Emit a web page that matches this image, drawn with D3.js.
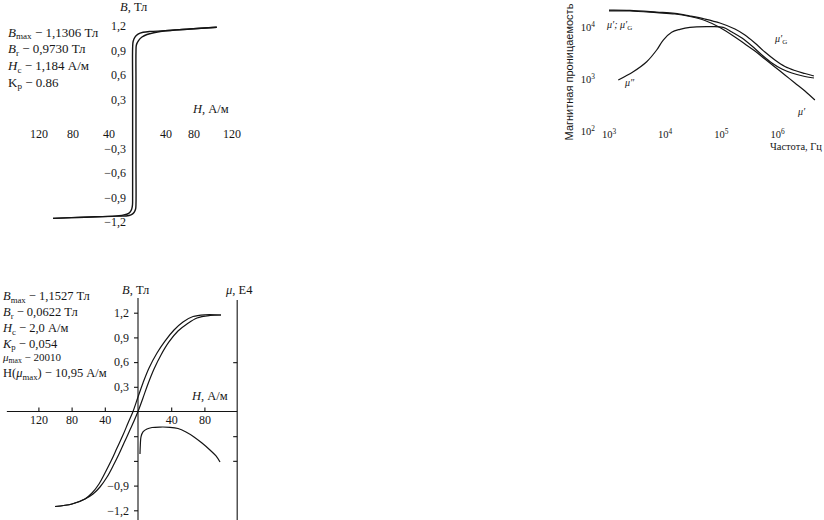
<!DOCTYPE html>
<html><head><meta charset="utf-8">
<script src="https://cdn.jsdelivr.net/npm/d3@7/dist/d3.min.js"></script>
<style>
body{margin:0;background:#fff}
svg{display:block}
text{font-family:"Liberation Serif","DejaVu Serif",serif;fill:#161616}
</style>
</head><body>
<svg id="c" width="824" height="520"></svg>
<script>
// ---------- Chart A: narrow hysteresis loop ----------
const aDescH = [104, 74, 39, 20, 11, 4.6, 0.5, -2, -2.8, -2.8, -2.8, -2.8, -2.8, -3.0, -4.2, -7, -12, -20, -30, -67, -103.5];
const aDescB = [1.184, 1.163, 1.141, 1.134, 1.123, 1.10, 1.06, 1.01, 0.93, 0.5, 0, -0.5, -0.9, -0.99, -1.04, -1.08, -1.105, -1.12, -1.128, -1.141, -1.155];
const aAscH  = [-103.5, -67, -30, -20, -13, -5.4, -0.6, 1.5, 2.0, 2.0, 2.0, 2.0, 2.0, 2.5, 5.2, 9.6, 15.9, 26, 39, 74, 104];
const aAscB  = [-1.155, -1.141, -1.128, -1.128, -1.127, -1.114, -1.084, -1.041, -0.98, -0.5, 0, 0.5, 0.88, 0.967, 1.022, 1.065, 1.096, 1.12, 1.141, 1.163, 1.184];
const aTicksH = [-120, -80, -40, 40, 80, 120];
const aTickLabelsH = ["120", "80", "40", "40", "80", "120"];
const aTicksB = [1.2, 0.9, 0.6, 0.3, -0.3, -0.6, -0.9, -1.2];
const aTickLabelsB = ["1,2", "0,9", "0,6", "0,3", "−0,3", "−0,6", "−0,9", "−1,2"];
const aParams = [
  [{t:"B", i:1}, {t:"max", sub:1}, {t:" − 1,1306 Тл"}],
  [{t:"B", i:1}, {t:"r", sub:1}, {t:" − 0,9730 Тл"}],
  [{t:"H", i:1}, {t:"c", sub:1}, {t:" − 1,184 А/м"}],
  [{t:"K"}, {t:"p", sub:1}, {t:" − 0.86"}]
];

// ---------- Chart B: permeability vs frequency ----------
const bMu1F = [1000, 2365, 7060, 14930, 27600, 51000, 94400, 174600, 263000, 396000, 597000, 899000, 1355000, 2040000, 3080000, 4630000];
const bMu1V = [20500, 20300, 18840, 17800, 15900, 13330, 9780, 6420, 4710, 3450, 2425, 1703, 1194, 838, 588, 394];
const bMuGF = [1000, 2365, 7060, 14930, 27600, 51000, 94400, 174600, 263000, 396000, 597000, 899000, 1355000, 2040000, 3080000, 4450000];
const bMuGV = [21100, 20900, 19400, 18300, 16300, 14250, 11940, 9150, 7020, 4920, 3300, 2320, 1740, 1455, 1275, 1142];
const bMu2F = [1463, 2700, 4690, 7060, 9250, 13050, 18350, 27600, 54700, 108000, 154500, 232800, 350600, 527000, 794000, 1197000, 1800000, 2830000, 4450000];
const bMu2V = [957, 1380, 2150, 3610, 5620, 7910, 9030, 9870, 10130, 9870, 8010, 6140, 4310, 2900, 2030, 1556, 1304, 1142, 1045];
const bTicksF = [1e3, 1e4, 1e5, 1e6];
const bTicksMu = [1e4, 1e3, 1e2];

// ---------- Chart C: wide loop + permeability ----------
const cDescH = [100, 80.7, 66.3, 54.2, 43.4, 32.5, 22.9, 13.3, 6.0, 0, -6.0, -12.0, -18.1, -25.3, -32.5, -39.8, -47.0, -55.4, -63.9, -79.5, -100];
const cDescB = [1.172, 1.175, 1.154, 1.088, 0.99, 0.856, 0.711, 0.529, 0.347, 0.176, 0, -0.14, -0.286, -0.444, -0.602, -0.747, -0.881, -0.99, -1.063, -1.124, -1.154];
const cAscH  = [-100, -79.5, -63.9, -54.2, -45.8, -37.3, -30.1, -22.9, -16.9, -10.8, -4.8, 0, 6.0, 12.0, 19.3, 27.7, 37.3, 48.2, 59.0, 71.1, 86.7, 100];
const cAscB  = [-1.154, -1.124, -1.063, -1.002, -0.917, -0.796, -0.662, -0.516, -0.383, -0.249, -0.115, 0, 0.164, 0.334, 0.516, 0.687, 0.845, 0.978, 1.063, 1.136, 1.166, 1.172];
const cMuH = [2.4, 2.8, 3.6, 6.0, 10.8, 16.9, 26.5, 38.6, 48.2, 57.8, 67.5, 77.1, 86.7, 94, 98.8];
const cMuV = [1.28, 1.64, 1.97, 2.17, 2.29, 2.35, 2.37, 2.36, 2.31, 2.17, 1.97, 1.72, 1.44, 1.20, 0.95];
const cTicksH = [-120, -80, -40, 40, 80];
const cTickLabelsH = ["120", "80", "40", "40", "80"];
const cTicksB = [1.2, 0.9, 0.6, 0.3, -0.3, -0.6, -0.9, -1.2];
const cTickLabelsB = ["1,2", "0,9", "0,6", "0,3", "", "", "−0,9", "−1,2"];
const cTicksMu = [1, 2, 5];
const cParams = [
  [{t:"B", i:1}, {t:"max", sub:1}, {t:" − 1,1527 Тл"}],
  [{t:"B", i:1}, {t:"r", sub:1}, {t:" − 0,0622 Тл"}],
  [{t:"H", i:1}, {t:"c", sub:1}, {t:" − 2,0 А/м"}],
  [{t:"K", i:1}, {t:"p", sub:1}, {t:" − 0,054"}],
  [{t:"μ", i:1}, {t:"max", sub:1}, {t:" − 20010"}],
  [{t:"H("}, {t:"μ", i:1}, {t:"max", sub:1}, {t:") − 10,95 А/м"}]
];

// ---------- helpers ----------
const ink = "#141414";
const svg = d3.select("#c");
const zip = (a, b) => a.map((v, i) => [v, b[i]]);
function curvePath(g, xs, ys, pts, w) {
  g.append("path").datum(pts)
    .attr("fill", "none").attr("stroke", ink).attr("stroke-width", w)
    .attr("d", d3.line().x(d => xs(d[0])).y(d => ys(d[1])).curve(d3.curveCatmullRom.alpha(0.5)));
}
function rich(g, x, y, parts, size, anchor) {
  const t = g.append("text").attr("x", x).attr("y", y)
    .style("font-size", size + "px").attr("text-anchor", anchor || "start");
  let shift = 0;
  parts.forEach(p => {
    const ts = t.append("tspan").text(p.t);
    const target = p.sub ? size * 0.22 : p.sup ? -size * 0.4 : 0;
    ts.attr("dy", target - shift); shift = target;
    if (p.sub || p.sup) ts.style("font-size", (size * 0.7) + "px");
    if (p.i) ts.style("font-style", "italic");
  });
  return t;
}

// ---------- Chart A ----------
const gA = svg.append("g");
const xA = d3.scaleLinear().domain([-120, -80, -40, 0, 40, 80, 120]).range([39, 73, 109, 134.4, 166, 194, 232]);
const yA = d3.scaleLinear().domain([-1.2, 1.2]).range([222, 26]);
curvePath(gA, xA, yA, zip(aDescH, aDescB), 1.4);
curvePath(gA, xA, yA, zip(aAscH, aAscB), 1.4);
aTicksH.forEach((v, i) => gA.append("text").attr("x", xA(v)).attr("y", 138)
  .attr("text-anchor", "middle").style("font-size", "12px").text(aTickLabelsH[i]));
aTicksB.forEach((v, i) => gA.append("text").attr("x", 126).attr("y", yA(v) + 4)
  .attr("text-anchor", "end").style("font-size", "12px").text(aTickLabelsB[i]));
rich(gA, 120, 11, [{t:"B", i:1}, {t:", Тл"}], 12.5);
rich(gA, 193, 113, [{t:"H", i:1}, {t:", А/м"}], 12.5);
aParams.forEach((p, i) => rich(gA, 8, 36.5 + i * 16.7, p, 13));

// ---------- Chart B ----------
const gB = svg.append("g");
const xB = d3.scaleLog().domain([1e3, 1e6]).range([609, 777.5]);
const yB = d3.scaleLog().domain([1e2, 1e4]).range([131, 27]);
curvePath(gB, xB, yB, zip(bMu1F, bMu1V), 1.2);
curvePath(gB, xB, yB, zip(bMuGF, bMuGV), 1.2);
curvePath(gB, xB, yB, zip(bMu2F, bMu2V), 1.2);
bTicksF.forEach(v => rich(gB, xB(v), 138, [{t:"10"}, {t:String(Math.round(Math.log10(v))), sup:1}], 10.5, "middle"));
bTicksMu.forEach(v => rich(gB, 595, yB(v) + 4, [{t:"10"}, {t:String(Math.round(Math.log10(v))), sup:1}], 10.5, "end"));
gB.append("text").attr("transform", "translate(573,72) rotate(-90)")
  .attr("text-anchor", "middle").style("font-family", "'Liberation Sans','DejaVu Sans',sans-serif")
  .style("font-size", "11px").text("Магнитная проницаемость");
gB.append("text").attr("x", 822).attr("y", 150).attr("text-anchor", "end")
  .style("font-size", "10.5px").text("Частота, Гц");
rich(gB, 607, 28, [{t:"μ′; μ′", i:1}, {t:"G", sub:1}], 10);
rich(gB, 625, 86, [{t:"μ″", i:1}], 10);
rich(gB, 775, 42, [{t:"μ′", i:1}, {t:"G", sub:1}], 10);
rich(gB, 798, 115, [{t:"μ′", i:1}], 10);

// ---------- Chart C ----------
const gC = svg.append("g");
const xC = d3.scaleLinear().domain([0, 100]).range([138, 221]);
const yC = d3.scaleLinear().domain([-1.2, 1.2]).range([510.3, 312.7]);
const muC = d3.scaleLinear().domain([0, 3]).range([485.5, 411.5]);
const xRight = xC(119.5);
// axis lines
gC.append("line").attr("x1", xC(0)).attr("x2", xC(0)).attr("y1", yC(1.38)).attr("y2", 520)
  .attr("stroke", ink).attr("stroke-width", 1.1);
gC.append("line").attr("x1", xRight).attr("x2", xRight).attr("y1", yC(1.355)).attr("y2", 520)
  .attr("stroke", ink).attr("stroke-width", 1.1);
gC.append("line").attr("x1", xC(-158)).attr("x2", xRight).attr("y1", yC(0)).attr("y2", yC(0))
  .attr("stroke", ink).attr("stroke-width", 1.1);
// axes ticks
const axL = gC.append("g").attr("transform", `translate(${xC(0)},0)`)
  .call(d3.axisLeft(yC).tickValues(cTicksB).tickSize(4).tickPadding(5)
    .tickFormat((d, i) => cTickLabelsB[i]));
const axR = gC.append("g").attr("transform", `translate(${xRight},0)`)
  .call(d3.axisLeft(muC).tickValues(cTicksMu).tickSize(4).tickFormat(""));
const axB = gC.append("g").attr("transform", `translate(0,${yC(0)})`)
  .call(d3.axisBottom(xC).tickValues(cTicksH).tickSize(-4).tickPadding(4)
    .tickFormat((d, i) => cTickLabelsH[i]));
[axL, axR, axB].forEach(a => {
  a.select(".domain").remove();
  a.attr("font-family", null).attr("font-size", null);
  a.selectAll("line").attr("stroke", ink).attr("stroke-width", 1.1);
  a.selectAll("text").style("font-size", "12px").attr("fill", "#161616");
});
curvePath(gC, xC, yC, zip(cDescH, cDescB), 1.2);
curvePath(gC, xC, yC, zip(cAscH, cAscB), 1.2);
curvePath(gC, xC, muC, zip(cMuH, cMuV), 1.2);
rich(gC, 122, 294, [{t:"B", i:1}, {t:", Тл"}], 12.5);
rich(gC, 226, 294, [{t:"μ", i:1}, {t:", E4"}], 12.5);
rich(gC, 192, 400, [{t:"H", i:1}, {t:", А/м"}], 12.5);
const cY = [300, 316, 332, 347.5, 361, 377];
cParams.forEach((p, i) => rich(gC, 3, cY[i], p, i === 4 ? 11 : 12.5));
</script>
</body></html>
